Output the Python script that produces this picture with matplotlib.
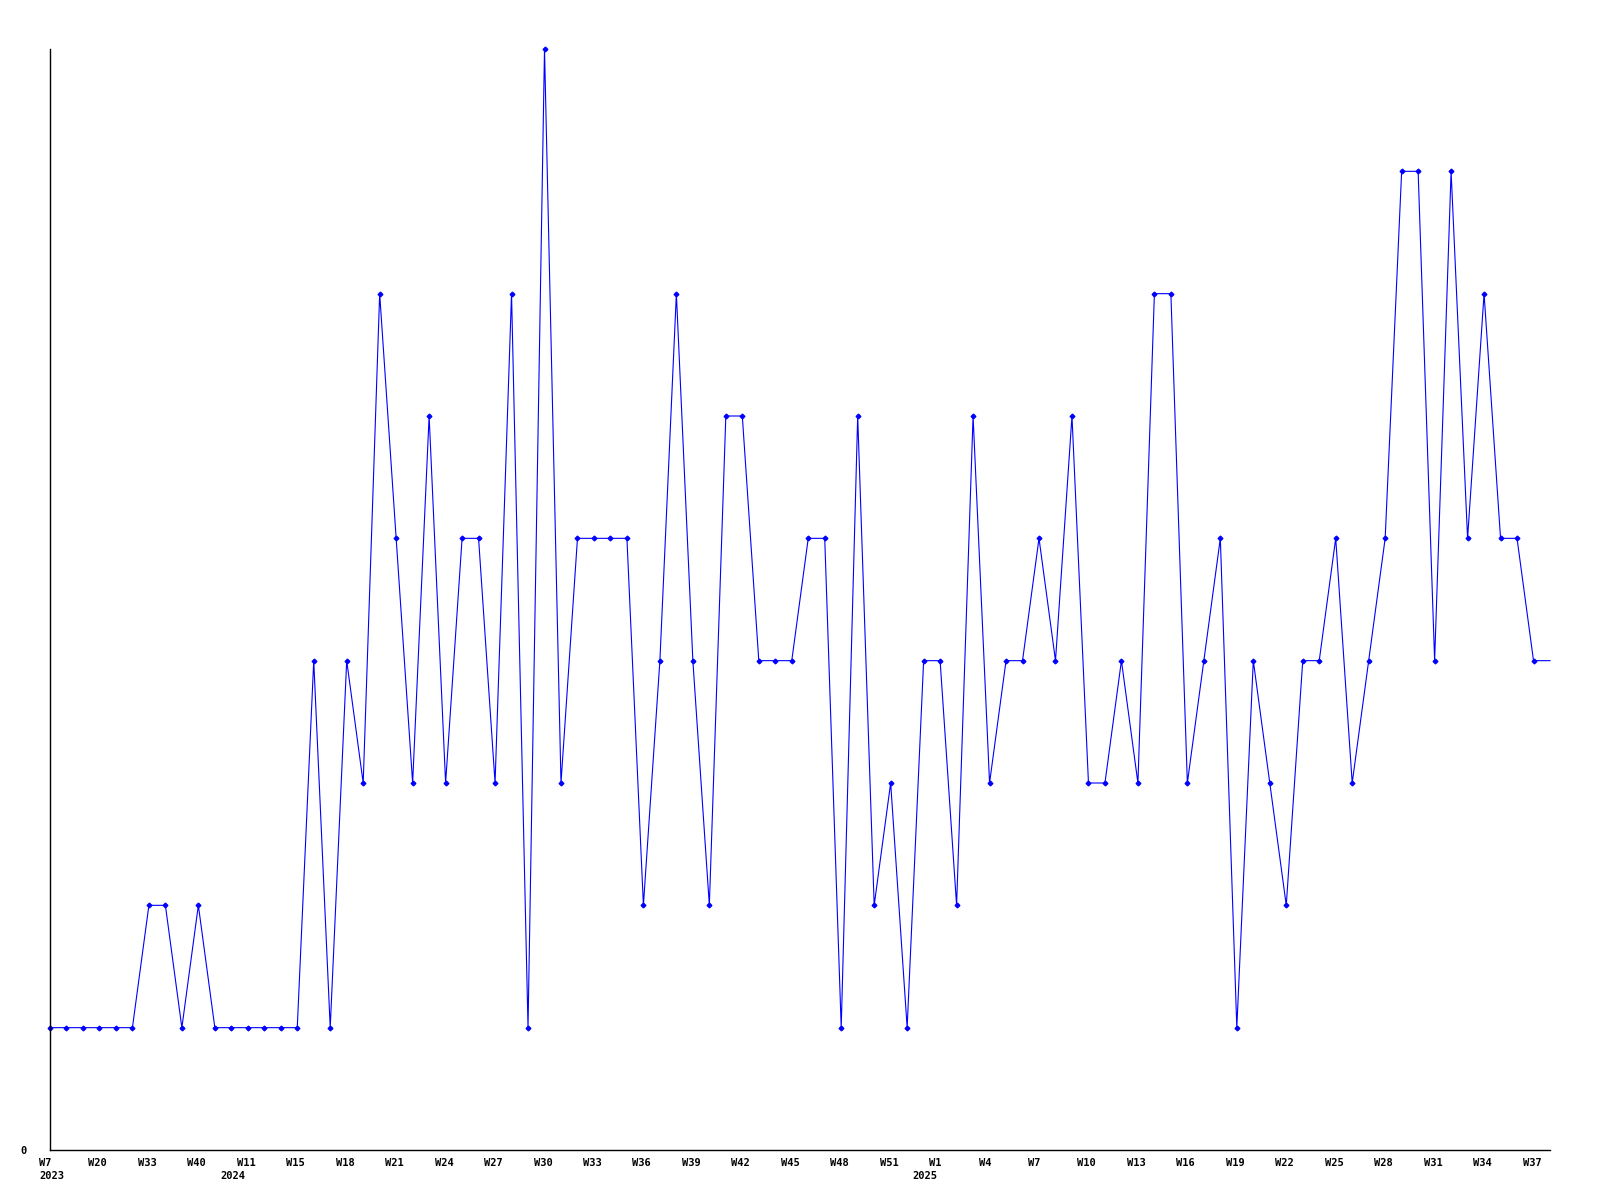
import matplotlib.pyplot as plt
from matplotlib.transforms import ScaledTranslation, blended_transform_factory

# weekly counts (last value sits on the right edge)
values = [1, 1, 1, 1, 1, 1, 2, 2, 1, 2,
          1, 1, 1, 1, 1, 1, 4, 1, 4, 3,
          7, 5, 3, 6, 3, 5, 5, 3, 7, 1,
          9, 3, 5, 5, 5, 5, 2, 4, 7, 4,
          2, 6, 6, 4, 4, 4, 5, 5, 1, 6,
          2, 3, 1, 4, 4, 2, 6, 3, 4, 4,
          5, 4, 6, 3, 3, 4, 3, 7, 7, 3,
          4, 5, 1, 4, 3, 2, 4, 4, 5, 3,
          4, 5, 8, 8, 4, 8, 5, 7, 5, 5,
          4, 4]

week_labels = ['W7', 'W20', 'W33', 'W40', 'W11', 'W15', 'W18', 'W21', 'W24', 'W27',
               'W30', 'W33', 'W36', 'W39', 'W42', 'W45', 'W48', 'W51', 'W1', 'W4',
               'W7', 'W10', 'W13', 'W16', 'W19', 'W22', 'W25', 'W28', 'W31', 'W34',
               'W37']
week_pos = list(range(0, 91, 3))

years = ['2023', '2024', '2025']
year_pos = [0, 11, 53]

fig = plt.figure(figsize=(16, 12), dpi=100)
ax = fig.add_axes([50 / 1600, 50 / 1200, 1500 / 1600, 1101 / 1200])

x = list(range(len(values)))
ax.plot(x, values, color='#0000ff', linewidth=0.8, marker='D', markersize=2.4,
        markevery=slice(0, len(values) - 1), clip_on=False)

ax.set_xlim(0, len(values) - 1)
ax.set_ylim(0, 9)

for s in ['top', 'right']:
    ax.spines[s].set_visible(False)
for s in ['left', 'bottom']:
    ax.spines[s].set_color('black')
    ax.spines[s].set_linewidth(1.0)

font = dict(family='DejaVu Sans Mono', fontweight='bold', fontsize=7.5)

ax.set_yticks([0])
ax.set_yticklabels(['0'], **font)
ax.tick_params(axis='y', length=0, pad=17)

ax.set_xticks(week_pos)
ax.set_xticklabels(week_labels, **font)
ax.tick_params(axis='x', length=0, pad=6)
shift = ScaledTranslation(-11 / 100, 0, fig.dpi_scale_trans)
for lbl in ax.get_xticklabels():
    lbl.set_horizontalalignment('left')
    lbl.set_transform(lbl.get_transform() + shift)

tr = blended_transform_factory(ax.transData, ax.transAxes)
for yr, p in zip(years, year_pos):
    ax.text(p, 0, yr, transform=tr + ScaledTranslation(-11 / 100, -26 / 100, fig.dpi_scale_trans),
            ha='left', va='center', **font)

fig.savefig('out.png', dpi=100)
